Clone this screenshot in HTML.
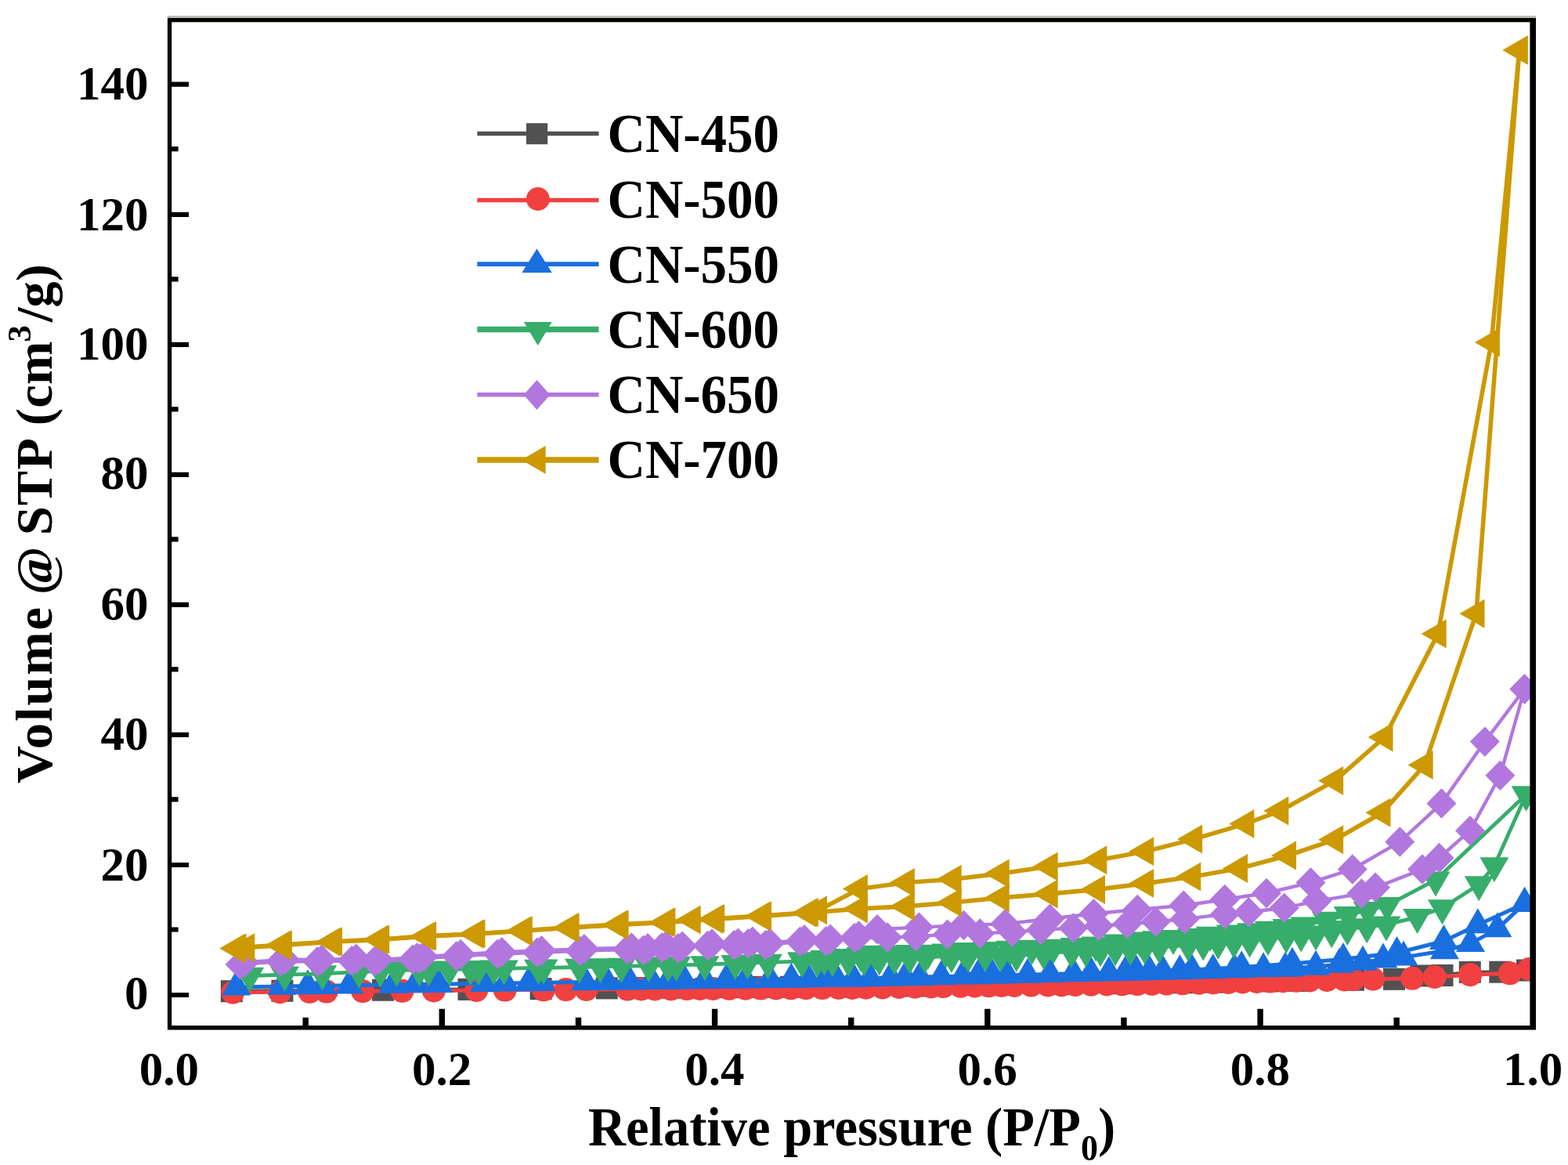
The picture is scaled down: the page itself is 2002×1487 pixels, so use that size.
<!DOCTYPE html>
<html lang="en"><head><meta charset="utf-8"><title>N2 adsorption-desorption isotherms</title>
<style>
html,body{margin:0;padding:0;background:#ffffff;}
body{width:2002px;height:1487px;overflow:hidden;}
svg{display:block;}
text{font-family:"Liberation Serif","DejaVu Serif",serif;font-weight:bold;fill:#000;}
.tk{font-size:61px;}
.ti{font-size:66.5px;}
.lg{font-size:67px;}
</style></head><body>
<svg width="2002" height="1487" viewBox="0 0 2002 1487">
<rect width="2002" height="1487" fill="#ffffff"/>
<defs><clipPath id="plotclip"><rect x="216.5" y="25.5" width="1741.0" height="1286.2"/></clipPath></defs>
<g clip-path="url(#plotclip)" stroke-linejoin="round" stroke-linecap="butt" fill="none">
<g>
<polyline points="295.8,1265.2 360.4,1264.7 489.0,1263.7 598.5,1262.9 690.6,1262.1 774.7,1261.4 818.0,1261.0 858.0,1260.7 932.0,1260.1 973.0,1259.9 1010.0,1259.8 1089.5,1259.4 1169.4,1258.4 1275.5,1256.9 1354.0,1256.0 1430.0,1255.2 1511.0,1254.2 1549.5,1253.6 1619.0,1252.4 1655.0,1251.9 1728.0,1250.7 1780.0,1249.8 1814.3,1245.5 1841.5,1245.0 1876.8,1240.9 1915.3,1240.7 1950.0,1238.5" stroke="#515151" stroke-width="5"/>
<rect x="281.8" y="1251.2" width="28" height="28" fill="#515151"/>
<rect x="346.4" y="1250.7" width="28" height="28" fill="#515151"/>
<rect x="475.0" y="1249.7" width="28" height="28" fill="#515151"/>
<rect x="584.5" y="1248.9" width="28" height="28" fill="#515151"/>
<rect x="676.6" y="1248.1" width="28" height="28" fill="#515151"/>
<rect x="760.7" y="1247.4" width="28" height="28" fill="#515151"/>
<rect x="804.0" y="1247.0" width="28" height="28" fill="#515151"/>
<rect x="844.0" y="1246.7" width="28" height="28" fill="#515151"/>
<rect x="918.0" y="1246.1" width="28" height="28" fill="#515151"/>
<rect x="959.0" y="1245.9" width="28" height="28" fill="#515151"/>
<rect x="996.0" y="1245.8" width="28" height="28" fill="#515151"/>
<rect x="1075.5" y="1245.4" width="28" height="28" fill="#515151"/>
<rect x="1155.4" y="1244.4" width="28" height="28" fill="#515151"/>
<rect x="1261.5" y="1242.9" width="28" height="28" fill="#515151"/>
<rect x="1340.0" y="1242.0" width="28" height="28" fill="#515151"/>
<rect x="1416.0" y="1241.2" width="28" height="28" fill="#515151"/>
<rect x="1497.0" y="1240.2" width="28" height="28" fill="#515151"/>
<rect x="1535.5" y="1239.6" width="28" height="28" fill="#515151"/>
<rect x="1605.0" y="1238.4" width="28" height="28" fill="#515151"/>
<rect x="1641.0" y="1237.9" width="28" height="28" fill="#515151"/>
<rect x="1714.0" y="1236.7" width="28" height="28" fill="#515151"/>
<rect x="1766.0" y="1235.8" width="28" height="28" fill="#515151"/>
<rect x="1800.3" y="1231.5" width="28" height="28" fill="#515151"/>
<rect x="1827.5" y="1231.0" width="28" height="28" fill="#515151"/>
<rect x="1862.8" y="1226.9" width="28" height="28" fill="#515151"/>
<rect x="1901.3" y="1226.7" width="28" height="28" fill="#515151"/>
<rect x="1936.0" y="1224.5" width="28" height="28" fill="#515151"/>
</g>
<g>
<polyline points="297.3,1266.7 357.3,1266.2 395.3,1265.8 416.8,1265.6 463.1,1265.2 513.5,1264.8 553.8,1264.4 608.3,1264.0 644.7,1263.6 694.0,1263.3 722.6,1263.1 748.6,1263.0 801.2,1262.6 818.7,1262.5 836.2,1262.4 856.7,1262.3 877.1,1262.1 893.7,1262.0 910.3,1261.9 931.0,1261.8 951.8,1261.7 971.3,1261.6 990.8,1261.5 1009.9,1261.3 1029.0,1261.2 1049.8,1261.1 1070.6,1261.0 1088.2,1260.9 1105.7,1260.7 1126.8,1260.4 1147.9,1260.0 1168.3,1259.7 1188.8,1259.4 1204.4,1259.1 1226.5,1258.8 1244.5,1258.5 1262.5,1258.3 1278.8,1258.1 1295.0,1257.9 1316.5,1257.6 1337.9,1257.4 1355.5,1257.2 1373.0,1257.0 1393.1,1256.7 1413.2,1256.5 1432.7,1256.3 1452.2,1256.1 1470.8,1255.8 1489.5,1255.6 1510.0,1255.3 1530.6,1254.8 1549.4,1254.3 1568.3,1253.9 1586.5,1253.5 1604.7,1253.0 1621.6,1252.6 1638.4,1252.2 1655.3,1251.8 1672.2,1251.4 1694.3,1250.9 1716.4,1250.4 1727.8,1250.1 1753.1,1249.6 1803.1,1248.8 1831.7,1247.0 1877.1,1244.2 1927.8,1242.3 1952.5,1237.0" stroke="#F14040" stroke-width="5"/>
<circle cx="297.3" cy="1266.7" r="15" fill="#F14040"/>
<circle cx="357.3" cy="1266.2" r="15" fill="#F14040"/>
<circle cx="395.3" cy="1265.8" r="15" fill="#F14040"/>
<circle cx="416.8" cy="1265.6" r="15" fill="#F14040"/>
<circle cx="463.1" cy="1265.2" r="15" fill="#F14040"/>
<circle cx="513.5" cy="1264.8" r="15" fill="#F14040"/>
<circle cx="553.8" cy="1264.4" r="15" fill="#F14040"/>
<circle cx="608.3" cy="1264.0" r="15" fill="#F14040"/>
<circle cx="644.7" cy="1263.6" r="15" fill="#F14040"/>
<circle cx="694.0" cy="1263.3" r="15" fill="#F14040"/>
<circle cx="722.6" cy="1263.1" r="15" fill="#F14040"/>
<circle cx="748.6" cy="1263.0" r="15" fill="#F14040"/>
<circle cx="801.2" cy="1262.6" r="15" fill="#F14040"/>
<circle cx="818.7" cy="1262.5" r="15" fill="#F14040"/>
<circle cx="836.2" cy="1262.4" r="15" fill="#F14040"/>
<circle cx="856.7" cy="1262.3" r="15" fill="#F14040"/>
<circle cx="877.1" cy="1262.1" r="15" fill="#F14040"/>
<circle cx="893.7" cy="1262.0" r="15" fill="#F14040"/>
<circle cx="910.3" cy="1261.9" r="15" fill="#F14040"/>
<circle cx="931.0" cy="1261.8" r="15" fill="#F14040"/>
<circle cx="951.8" cy="1261.7" r="15" fill="#F14040"/>
<circle cx="971.3" cy="1261.6" r="15" fill="#F14040"/>
<circle cx="990.8" cy="1261.5" r="15" fill="#F14040"/>
<circle cx="1009.9" cy="1261.3" r="15" fill="#F14040"/>
<circle cx="1029.0" cy="1261.2" r="15" fill="#F14040"/>
<circle cx="1049.8" cy="1261.1" r="15" fill="#F14040"/>
<circle cx="1070.6" cy="1261.0" r="15" fill="#F14040"/>
<circle cx="1088.2" cy="1260.9" r="15" fill="#F14040"/>
<circle cx="1105.7" cy="1260.7" r="15" fill="#F14040"/>
<circle cx="1126.8" cy="1260.4" r="15" fill="#F14040"/>
<circle cx="1147.9" cy="1260.0" r="15" fill="#F14040"/>
<circle cx="1168.3" cy="1259.7" r="15" fill="#F14040"/>
<circle cx="1188.8" cy="1259.4" r="15" fill="#F14040"/>
<circle cx="1204.4" cy="1259.1" r="15" fill="#F14040"/>
<circle cx="1226.5" cy="1258.8" r="15" fill="#F14040"/>
<circle cx="1244.5" cy="1258.5" r="15" fill="#F14040"/>
<circle cx="1262.5" cy="1258.3" r="15" fill="#F14040"/>
<circle cx="1278.8" cy="1258.1" r="15" fill="#F14040"/>
<circle cx="1295.0" cy="1257.9" r="15" fill="#F14040"/>
<circle cx="1316.5" cy="1257.6" r="15" fill="#F14040"/>
<circle cx="1337.9" cy="1257.4" r="15" fill="#F14040"/>
<circle cx="1355.5" cy="1257.2" r="15" fill="#F14040"/>
<circle cx="1373.0" cy="1257.0" r="15" fill="#F14040"/>
<circle cx="1393.1" cy="1256.7" r="15" fill="#F14040"/>
<circle cx="1413.2" cy="1256.5" r="15" fill="#F14040"/>
<circle cx="1432.7" cy="1256.3" r="15" fill="#F14040"/>
<circle cx="1452.2" cy="1256.1" r="15" fill="#F14040"/>
<circle cx="1470.8" cy="1255.8" r="15" fill="#F14040"/>
<circle cx="1489.5" cy="1255.6" r="15" fill="#F14040"/>
<circle cx="1510.0" cy="1255.3" r="15" fill="#F14040"/>
<circle cx="1530.6" cy="1254.8" r="15" fill="#F14040"/>
<circle cx="1549.4" cy="1254.3" r="15" fill="#F14040"/>
<circle cx="1568.3" cy="1253.9" r="15" fill="#F14040"/>
<circle cx="1586.5" cy="1253.5" r="15" fill="#F14040"/>
<circle cx="1604.7" cy="1253.0" r="15" fill="#F14040"/>
<circle cx="1621.6" cy="1252.6" r="15" fill="#F14040"/>
<circle cx="1638.4" cy="1252.2" r="15" fill="#F14040"/>
<circle cx="1655.3" cy="1251.8" r="15" fill="#F14040"/>
<circle cx="1672.2" cy="1251.4" r="15" fill="#F14040"/>
<circle cx="1694.3" cy="1250.9" r="15" fill="#F14040"/>
<circle cx="1716.4" cy="1250.4" r="15" fill="#F14040"/>
<circle cx="1727.8" cy="1250.1" r="15" fill="#F14040"/>
<circle cx="1753.1" cy="1249.6" r="15" fill="#F14040"/>
<circle cx="1803.1" cy="1248.8" r="15" fill="#F14040"/>
<circle cx="1831.7" cy="1247.0" r="15" fill="#F14040"/>
<circle cx="1877.1" cy="1244.2" r="15" fill="#F14040"/>
<circle cx="1927.8" cy="1242.3" r="15" fill="#F14040"/>
<circle cx="1952.5" cy="1237.0" r="15" fill="#F14040"/>
</g>
<g>
<polyline points="301.7,1259.9 360.0,1259.0 393.0,1258.6 412.0,1258.3 446.0,1257.8 501.5,1257.0 530.0,1256.6 560.0,1256.2 618.5,1255.3 645.0,1255.0 675.0,1254.6 691.0,1254.3 747.5,1253.5 775.0,1253.2 803.8,1252.7 832.3,1252.3 853.1,1252.1 873.9,1251.8 899.9,1251.4 927.1,1251.1 951.8,1250.8 983.0,1250.4 1010.3,1250.0 1032.0,1249.7 1053.8,1249.5 1068.0,1249.3 1089.5,1249.0 1110.9,1248.7 1136.9,1248.1 1155.7,1247.6 1174.5,1247.2 1201.8,1246.6 1229.1,1246.0 1248.6,1245.5 1267.3,1245.1 1286.0,1244.7 1312.0,1244.1 1340.5,1243.4 1370.4,1242.7 1393.1,1242.1 1415.8,1241.5 1436.6,1241.0 1450.9,1240.7 1467.8,1240.3 1484.7,1240.0 1506.4,1239.5 1521.6,1239.1 1548.8,1238.3 1576.1,1237.5 1585.2,1237.3 1613.1,1236.6 1641.0,1236.0 1647.5,1235.7 1680.0,1234.0 1710.0,1231.0 1740.0,1228.0 1766.0,1225.0 1792.0,1221.9 1844.4,1213.5 1877.5,1204.4 1911.9,1185.6 1946.6,1153.2" stroke="#1A6FDF" stroke-width="5"/>
<polyline points="1946.6,1153.2 1886.9,1180.5 1843.4,1201.3 1783.6,1216.2 1715.0,1224.3 1650.0,1230.0 1585.2,1234.5 1521.6,1238.0 1450.9,1240.0" stroke="#1A6FDF" stroke-width="5"/>
<path d="M301.7 1238.5L320.2 1270.5L283.2 1270.5Z" fill="#1A6FDF"/>
<path d="M360.0 1237.7L378.5 1269.7L341.5 1269.7Z" fill="#1A6FDF"/>
<path d="M393.0 1237.2L411.5 1269.2L374.5 1269.2Z" fill="#1A6FDF"/>
<path d="M412.0 1237.0L430.5 1269.0L393.5 1269.0Z" fill="#1A6FDF"/>
<path d="M446.0 1236.5L464.5 1268.5L427.5 1268.5Z" fill="#1A6FDF"/>
<path d="M501.5 1235.7L520.0 1267.7L483.0 1267.7Z" fill="#1A6FDF"/>
<path d="M530.0 1235.3L548.5 1267.3L511.5 1267.3Z" fill="#1A6FDF"/>
<path d="M560.0 1234.9L578.5 1266.9L541.5 1266.9Z" fill="#1A6FDF"/>
<path d="M618.5 1234.0L637.0 1266.0L600.0 1266.0Z" fill="#1A6FDF"/>
<path d="M645.0 1233.6L663.5 1265.6L626.5 1265.6Z" fill="#1A6FDF"/>
<path d="M675.0 1233.2L693.5 1265.2L656.5 1265.2Z" fill="#1A6FDF"/>
<path d="M691.0 1233.0L709.5 1265.0L672.5 1265.0Z" fill="#1A6FDF"/>
<path d="M747.5 1232.2L766.0 1264.2L729.0 1264.2Z" fill="#1A6FDF"/>
<path d="M775.0 1231.8L793.5 1263.8L756.5 1263.8Z" fill="#1A6FDF"/>
<path d="M803.8 1231.4L822.3 1263.4L785.3 1263.4Z" fill="#1A6FDF"/>
<path d="M832.3 1231.0L850.8 1263.0L813.8 1263.0Z" fill="#1A6FDF"/>
<path d="M853.1 1230.7L871.6 1262.7L834.6 1262.7Z" fill="#1A6FDF"/>
<path d="M873.9 1230.4L892.4 1262.4L855.4 1262.4Z" fill="#1A6FDF"/>
<path d="M899.9 1230.1L918.4 1262.1L881.4 1262.1Z" fill="#1A6FDF"/>
<path d="M927.1 1229.7L945.6 1261.7L908.6 1261.7Z" fill="#1A6FDF"/>
<path d="M951.8 1229.4L970.3 1261.4L933.3 1261.4Z" fill="#1A6FDF"/>
<path d="M983.0 1229.0L1001.5 1261.0L964.5 1261.0Z" fill="#1A6FDF"/>
<path d="M1010.3 1228.7L1028.8 1260.7L991.8 1260.7Z" fill="#1A6FDF"/>
<path d="M1032.0 1228.4L1050.5 1260.4L1013.5 1260.4Z" fill="#1A6FDF"/>
<path d="M1053.8 1228.1L1072.3 1260.1L1035.3 1260.1Z" fill="#1A6FDF"/>
<path d="M1068.0 1228.0L1086.5 1260.0L1049.5 1260.0Z" fill="#1A6FDF"/>
<path d="M1089.5 1227.7L1108.0 1259.7L1071.0 1259.7Z" fill="#1A6FDF"/>
<path d="M1110.9 1227.3L1129.4 1259.3L1092.4 1259.3Z" fill="#1A6FDF"/>
<path d="M1136.9 1226.7L1155.4 1258.7L1118.4 1258.7Z" fill="#1A6FDF"/>
<path d="M1155.7 1226.3L1174.2 1258.3L1137.2 1258.3Z" fill="#1A6FDF"/>
<path d="M1174.5 1225.9L1193.0 1257.9L1156.0 1257.9Z" fill="#1A6FDF"/>
<path d="M1201.8 1225.2L1220.3 1257.2L1183.3 1257.2Z" fill="#1A6FDF"/>
<path d="M1229.1 1224.6L1247.6 1256.6L1210.6 1256.6Z" fill="#1A6FDF"/>
<path d="M1248.6 1224.2L1267.1 1256.2L1230.1 1256.2Z" fill="#1A6FDF"/>
<path d="M1267.3 1223.8L1285.8 1255.8L1248.8 1255.8Z" fill="#1A6FDF"/>
<path d="M1286.0 1223.3L1304.5 1255.3L1267.5 1255.3Z" fill="#1A6FDF"/>
<path d="M1312.0 1222.7L1330.5 1254.7L1293.5 1254.7Z" fill="#1A6FDF"/>
<path d="M1340.5 1222.1L1359.0 1254.1L1322.0 1254.1Z" fill="#1A6FDF"/>
<path d="M1370.4 1221.3L1388.9 1253.3L1351.9 1253.3Z" fill="#1A6FDF"/>
<path d="M1393.1 1220.8L1411.6 1252.8L1374.6 1252.8Z" fill="#1A6FDF"/>
<path d="M1415.8 1220.2L1434.3 1252.2L1397.3 1252.2Z" fill="#1A6FDF"/>
<path d="M1436.6 1219.7L1455.1 1251.7L1418.1 1251.7Z" fill="#1A6FDF"/>
<path d="M1450.9 1219.4L1469.4 1251.4L1432.4 1251.4Z" fill="#1A6FDF"/>
<path d="M1467.8 1219.0L1486.3 1251.0L1449.3 1251.0Z" fill="#1A6FDF"/>
<path d="M1484.7 1218.6L1503.2 1250.6L1466.2 1250.6Z" fill="#1A6FDF"/>
<path d="M1506.4 1218.2L1524.9 1250.2L1487.9 1250.2Z" fill="#1A6FDF"/>
<path d="M1521.6 1217.7L1540.1 1249.7L1503.1 1249.7Z" fill="#1A6FDF"/>
<path d="M1548.8 1216.9L1567.3 1248.9L1530.3 1248.9Z" fill="#1A6FDF"/>
<path d="M1576.1 1216.2L1594.6 1248.2L1557.6 1248.2Z" fill="#1A6FDF"/>
<path d="M1585.2 1216.0L1603.7 1248.0L1566.7 1248.0Z" fill="#1A6FDF"/>
<path d="M1613.1 1215.3L1631.6 1247.3L1594.6 1247.3Z" fill="#1A6FDF"/>
<path d="M1641.0 1214.7L1659.5 1246.7L1622.5 1246.7Z" fill="#1A6FDF"/>
<path d="M1647.5 1214.3L1666.0 1246.3L1629.0 1246.3Z" fill="#1A6FDF"/>
<path d="M1680.0 1212.7L1698.5 1244.7L1661.5 1244.7Z" fill="#1A6FDF"/>
<path d="M1710.0 1209.7L1728.5 1241.7L1691.5 1241.7Z" fill="#1A6FDF"/>
<path d="M1740.0 1206.7L1758.5 1238.7L1721.5 1238.7Z" fill="#1A6FDF"/>
<path d="M1766.0 1203.6L1784.5 1235.6L1747.5 1235.6Z" fill="#1A6FDF"/>
<path d="M1792.0 1200.6L1810.5 1232.6L1773.5 1232.6Z" fill="#1A6FDF"/>
<path d="M1844.4 1192.2L1862.9 1224.2L1825.9 1224.2Z" fill="#1A6FDF"/>
<path d="M1877.5 1183.1L1896.0 1215.1L1859.0 1215.1Z" fill="#1A6FDF"/>
<path d="M1911.9 1164.3L1930.4 1196.3L1893.4 1196.3Z" fill="#1A6FDF"/>
<path d="M1946.6 1131.9L1965.1 1163.9L1928.1 1163.9Z" fill="#1A6FDF"/>
<path d="M1946.6 1131.9L1965.1 1163.9L1928.1 1163.9Z" fill="#1A6FDF"/>
<path d="M1886.9 1159.2L1905.4 1191.2L1868.4 1191.2Z" fill="#1A6FDF"/>
<path d="M1843.4 1180.0L1861.9 1212.0L1824.9 1212.0Z" fill="#1A6FDF"/>
<path d="M1783.6 1194.9L1802.1 1226.9L1765.1 1226.9Z" fill="#1A6FDF"/>
<path d="M1715.0 1203.0L1733.5 1235.0L1696.5 1235.0Z" fill="#1A6FDF"/>
<path d="M1650.0 1208.7L1668.5 1240.7L1631.5 1240.7Z" fill="#1A6FDF"/>
<path d="M1585.2 1213.2L1603.7 1245.2L1566.7 1245.2Z" fill="#1A6FDF"/>
<path d="M1521.6 1216.7L1540.1 1248.7L1503.1 1248.7Z" fill="#1A6FDF"/>
<path d="M1450.9 1218.7L1469.4 1250.7L1432.4 1250.7Z" fill="#1A6FDF"/>
</g>
<g>
<polyline points="318.7,1245.5 363.5,1244.2 411.6,1242.9 458.3,1240.5 485.6,1239.4 506.4,1238.5 535.6,1238.0 547.3,1237.8 573.9,1237.3 600.5,1236.8 610.9,1236.6 630.4,1236.3 643.4,1236.1 687.5,1235.4 694.0,1235.3 739.5,1234.5 766.5,1233.9 793.4,1233.3 828.4,1232.6 853.1,1232.0 863.5,1231.8 899.9,1231.0 938.8,1229.7 954.4,1229.2 980.4,1228.4 1024.0,1227.0 1043.5,1226.4 1062.9,1225.9 1083.0,1225.3 1103.1,1224.7 1122.6,1223.9 1142.1,1223.1 1161.5,1222.3 1181.0,1221.5 1214.8,1220.6 1236.2,1220.1 1257.7,1219.5 1277.7,1219.5 1297.7,1219.6 1332.7,1217.0 1367.8,1214.4 1386.4,1213.6 1405.0,1212.8 1424.0,1212.0 1443.1,1211.2 1461.5,1210.0 1480.0,1208.8 1517.0,1206.4 1536.2,1205.1 1555.3,1203.8 1575.4,1202.5 1595.6,1201.2 1618.9,1198.6 1642.3,1196.0 1661.2,1194.0 1680.0,1192.1 1700.2,1188.8 1720.3,1185.6 1745.2,1182.9 1770.0,1180.3 1809.6,1170.6 1841.4,1158.9 1888.2,1129.0 1907.9,1105.0 1948.5,1014.3" stroke="#37AD6B" stroke-width="4.8"/>
<polyline points="1948.5,1014.3 1833.0,1123.2 1771.3,1155.6 1746.2,1161.6 1721.2,1167.6 1693.5,1174.4 1665.7,1181.2 1643.0,1183.8 1620.2,1186.4 1597.5,1189.0 1571.2,1191.2 1545.0,1193.5 1521.5,1195.6 1498.0,1197.7 1476.5,1199.0 1455.0,1200.3 1427.0,1203.2 1399.0,1206.2 1372.0,1207.8 1345.0,1209.4 1317.5,1210.5 1290.0,1211.5 1260.2,1212.7 1230.4,1213.8 1207.7,1215.1 1185.0,1216.4 1162.3,1216.8 1139.7,1217.1 1117.0,1217.5 1099.0,1219.5 1081.0,1221.6 1052.5,1223.8 1024.0,1226.0" stroke="#37AD6B" stroke-width="4.8"/>
<path d="M318.7 1266.8L337.2 1234.8L300.2 1234.8Z" fill="#37AD6B"/>
<path d="M363.5 1265.5L382.0 1233.5L345.0 1233.5Z" fill="#37AD6B"/>
<path d="M411.6 1264.2L430.1 1232.2L393.1 1232.2Z" fill="#37AD6B"/>
<path d="M458.3 1261.8L476.8 1229.8L439.8 1229.8Z" fill="#37AD6B"/>
<path d="M485.6 1260.7L504.1 1228.7L467.1 1228.7Z" fill="#37AD6B"/>
<path d="M506.4 1259.8L524.9 1227.8L487.9 1227.8Z" fill="#37AD6B"/>
<path d="M535.6 1259.3L554.1 1227.3L517.1 1227.3Z" fill="#37AD6B"/>
<path d="M547.3 1259.1L565.8 1227.1L528.8 1227.1Z" fill="#37AD6B"/>
<path d="M573.9 1258.6L592.4 1226.6L555.4 1226.6Z" fill="#37AD6B"/>
<path d="M600.5 1258.1L619.0 1226.1L582.0 1226.1Z" fill="#37AD6B"/>
<path d="M610.9 1258.0L629.4 1226.0L592.4 1226.0Z" fill="#37AD6B"/>
<path d="M630.4 1257.6L648.9 1225.6L611.9 1225.6Z" fill="#37AD6B"/>
<path d="M643.4 1257.4L661.9 1225.4L624.9 1225.4Z" fill="#37AD6B"/>
<path d="M687.5 1256.7L706.0 1224.7L669.0 1224.7Z" fill="#37AD6B"/>
<path d="M694.0 1256.6L712.5 1224.6L675.5 1224.6Z" fill="#37AD6B"/>
<path d="M739.5 1255.8L758.0 1223.8L721.0 1223.8Z" fill="#37AD6B"/>
<path d="M766.5 1255.3L785.0 1223.3L748.0 1223.3Z" fill="#37AD6B"/>
<path d="M793.4 1254.7L811.9 1222.7L774.9 1222.7Z" fill="#37AD6B"/>
<path d="M828.4 1253.9L846.9 1221.9L809.9 1221.9Z" fill="#37AD6B"/>
<path d="M853.1 1253.4L871.6 1221.4L834.6 1221.4Z" fill="#37AD6B"/>
<path d="M863.5 1253.1L882.0 1221.1L845.0 1221.1Z" fill="#37AD6B"/>
<path d="M899.9 1252.3L918.4 1220.3L881.4 1220.3Z" fill="#37AD6B"/>
<path d="M938.8 1251.1L957.3 1219.1L920.3 1219.1Z" fill="#37AD6B"/>
<path d="M954.4 1250.6L972.9 1218.6L935.9 1218.6Z" fill="#37AD6B"/>
<path d="M980.4 1249.7L998.9 1217.7L961.9 1217.7Z" fill="#37AD6B"/>
<path d="M1024.0 1248.3L1042.5 1216.3L1005.5 1216.3Z" fill="#37AD6B"/>
<path d="M1043.5 1247.8L1062.0 1215.8L1025.0 1215.8Z" fill="#37AD6B"/>
<path d="M1062.9 1247.2L1081.4 1215.2L1044.4 1215.2Z" fill="#37AD6B"/>
<path d="M1083.0 1246.6L1101.5 1214.6L1064.5 1214.6Z" fill="#37AD6B"/>
<path d="M1103.1 1246.0L1121.6 1214.0L1084.6 1214.0Z" fill="#37AD6B"/>
<path d="M1122.6 1245.2L1141.1 1213.2L1104.1 1213.2Z" fill="#37AD6B"/>
<path d="M1142.1 1244.4L1160.6 1212.4L1123.6 1212.4Z" fill="#37AD6B"/>
<path d="M1161.5 1243.6L1180.0 1211.6L1143.0 1211.6Z" fill="#37AD6B"/>
<path d="M1181.0 1242.8L1199.5 1210.8L1162.5 1210.8Z" fill="#37AD6B"/>
<path d="M1214.8 1242.0L1233.3 1210.0L1196.3 1210.0Z" fill="#37AD6B"/>
<path d="M1236.2 1241.4L1254.8 1209.4L1217.8 1209.4Z" fill="#37AD6B"/>
<path d="M1257.7 1240.8L1276.2 1208.8L1239.2 1208.8Z" fill="#37AD6B"/>
<path d="M1277.7 1240.9L1296.2 1208.9L1259.2 1208.9Z" fill="#37AD6B"/>
<path d="M1297.7 1240.9L1316.2 1208.9L1279.2 1208.9Z" fill="#37AD6B"/>
<path d="M1332.7 1238.3L1351.2 1206.3L1314.2 1206.3Z" fill="#37AD6B"/>
<path d="M1367.8 1235.7L1386.3 1203.7L1349.3 1203.7Z" fill="#37AD6B"/>
<path d="M1386.4 1234.9L1404.9 1202.9L1367.9 1202.9Z" fill="#37AD6B"/>
<path d="M1405.0 1234.2L1423.5 1202.2L1386.5 1202.2Z" fill="#37AD6B"/>
<path d="M1424.0 1233.3L1442.5 1201.3L1405.5 1201.3Z" fill="#37AD6B"/>
<path d="M1443.1 1232.5L1461.6 1200.5L1424.6 1200.5Z" fill="#37AD6B"/>
<path d="M1461.5 1231.3L1480.0 1199.3L1443.0 1199.3Z" fill="#37AD6B"/>
<path d="M1480.0 1230.1L1498.5 1198.1L1461.5 1198.1Z" fill="#37AD6B"/>
<path d="M1517.0 1227.7L1535.5 1195.7L1498.5 1195.7Z" fill="#37AD6B"/>
<path d="M1536.2 1226.4L1554.7 1194.4L1517.7 1194.4Z" fill="#37AD6B"/>
<path d="M1555.3 1225.1L1573.8 1193.1L1536.8 1193.1Z" fill="#37AD6B"/>
<path d="M1575.4 1223.8L1593.9 1191.8L1556.9 1191.8Z" fill="#37AD6B"/>
<path d="M1595.6 1222.5L1614.1 1190.5L1577.1 1190.5Z" fill="#37AD6B"/>
<path d="M1618.9 1219.9L1637.4 1187.9L1600.4 1187.9Z" fill="#37AD6B"/>
<path d="M1642.3 1217.3L1660.8 1185.3L1623.8 1185.3Z" fill="#37AD6B"/>
<path d="M1661.2 1215.4L1679.7 1183.4L1642.7 1183.4Z" fill="#37AD6B"/>
<path d="M1680.0 1213.4L1698.5 1181.4L1661.5 1181.4Z" fill="#37AD6B"/>
<path d="M1700.2 1210.2L1718.7 1178.2L1681.7 1178.2Z" fill="#37AD6B"/>
<path d="M1720.3 1206.9L1738.8 1174.9L1701.8 1174.9Z" fill="#37AD6B"/>
<path d="M1745.2 1204.3L1763.7 1172.3L1726.7 1172.3Z" fill="#37AD6B"/>
<path d="M1770.0 1201.6L1788.5 1169.6L1751.5 1169.6Z" fill="#37AD6B"/>
<path d="M1809.6 1191.9L1828.1 1159.9L1791.1 1159.9Z" fill="#37AD6B"/>
<path d="M1841.4 1180.2L1859.9 1148.2L1822.9 1148.2Z" fill="#37AD6B"/>
<path d="M1888.2 1150.3L1906.7 1118.3L1869.7 1118.3Z" fill="#37AD6B"/>
<path d="M1907.9 1126.3L1926.4 1094.3L1889.4 1094.3Z" fill="#37AD6B"/>
<path d="M1948.5 1035.6L1967.0 1003.6L1930.0 1003.6Z" fill="#37AD6B"/>
<path d="M1948.5 1035.6L1967.0 1003.6L1930.0 1003.6Z" fill="#37AD6B"/>
<path d="M1833.0 1144.5L1851.5 1112.5L1814.5 1112.5Z" fill="#37AD6B"/>
<path d="M1771.3 1176.9L1789.8 1144.9L1752.8 1144.9Z" fill="#37AD6B"/>
<path d="M1746.2 1182.9L1764.8 1150.9L1727.8 1150.9Z" fill="#37AD6B"/>
<path d="M1721.2 1188.9L1739.7 1156.9L1702.7 1156.9Z" fill="#37AD6B"/>
<path d="M1693.5 1195.7L1712.0 1163.7L1675.0 1163.7Z" fill="#37AD6B"/>
<path d="M1665.7 1202.5L1684.2 1170.5L1647.2 1170.5Z" fill="#37AD6B"/>
<path d="M1643.0 1205.1L1661.5 1173.1L1624.5 1173.1Z" fill="#37AD6B"/>
<path d="M1620.2 1207.7L1638.7 1175.7L1601.7 1175.7Z" fill="#37AD6B"/>
<path d="M1597.5 1210.3L1616.0 1178.3L1579.0 1178.3Z" fill="#37AD6B"/>
<path d="M1571.2 1212.6L1589.8 1180.6L1552.8 1180.6Z" fill="#37AD6B"/>
<path d="M1545.0 1214.8L1563.5 1182.8L1526.5 1182.8Z" fill="#37AD6B"/>
<path d="M1521.5 1216.9L1540.0 1184.9L1503.0 1184.9Z" fill="#37AD6B"/>
<path d="M1498.0 1219.0L1516.5 1187.0L1479.5 1187.0Z" fill="#37AD6B"/>
<path d="M1476.5 1220.3L1495.0 1188.3L1458.0 1188.3Z" fill="#37AD6B"/>
<path d="M1455.0 1221.6L1473.5 1189.6L1436.5 1189.6Z" fill="#37AD6B"/>
<path d="M1427.0 1224.6L1445.5 1192.6L1408.5 1192.6Z" fill="#37AD6B"/>
<path d="M1399.0 1227.5L1417.5 1195.5L1380.5 1195.5Z" fill="#37AD6B"/>
<path d="M1372.0 1229.1L1390.5 1197.1L1353.5 1197.1Z" fill="#37AD6B"/>
<path d="M1345.0 1230.7L1363.5 1198.7L1326.5 1198.7Z" fill="#37AD6B"/>
<path d="M1317.5 1231.8L1336.0 1199.8L1299.0 1199.8Z" fill="#37AD6B"/>
<path d="M1290.0 1232.8L1308.5 1200.8L1271.5 1200.8Z" fill="#37AD6B"/>
<path d="M1260.2 1234.0L1278.7 1202.0L1241.7 1202.0Z" fill="#37AD6B"/>
<path d="M1230.4 1235.1L1248.9 1203.1L1211.9 1203.1Z" fill="#37AD6B"/>
<path d="M1207.7 1236.4L1226.2 1204.4L1189.2 1204.4Z" fill="#37AD6B"/>
<path d="M1185.0 1237.7L1203.5 1205.7L1166.5 1205.7Z" fill="#37AD6B"/>
<path d="M1162.3 1238.1L1180.8 1206.1L1143.8 1206.1Z" fill="#37AD6B"/>
<path d="M1139.7 1238.5L1158.2 1206.5L1121.2 1206.5Z" fill="#37AD6B"/>
<path d="M1117.0 1238.8L1135.5 1206.8L1098.5 1206.8Z" fill="#37AD6B"/>
<path d="M1099.0 1240.9L1117.5 1208.9L1080.5 1208.9Z" fill="#37AD6B"/>
<path d="M1081.0 1242.9L1099.5 1210.9L1062.5 1210.9Z" fill="#37AD6B"/>
<path d="M1052.5 1245.1L1071.0 1213.1L1034.0 1213.1Z" fill="#37AD6B"/>
<path d="M1024.0 1247.3L1042.5 1215.3L1005.5 1215.3Z" fill="#37AD6B"/>
</g>
<g>
<polyline points="306.5,1230.9 358.3,1227.3 405.1,1227.4 449.2,1226.2 477.8,1227.3 527.0,1224.8 535.2,1223.5 582.6,1220.6 635.2,1217.8 685.8,1215.8 740.4,1213.7 800.8,1212.1 821.5,1212.8 844.9,1209.5 865.7,1210.2 903.4,1206.9 937.1,1206.3 955.3,1204.3 977.4,1206.3 1021.5,1201.7 1054.7,1201.2 1091.0,1197.0 1133.0,1196.6 1169.4,1195.3 1209.6,1192.7 1251.2,1191.4 1292.5,1189.6 1328.8,1187.0 1370.4,1184.4 1402.9,1181.8 1439.2,1179.2 1475.6,1176.6 1512.5,1173.0 1563.8,1167.0 1594.3,1164.3 1639.7,1158.8 1681.3,1150.1 1738.4,1140.6 1756.0,1132.8 1816.0,1109.6 1837.6,1095.0 1877.0,1060.2 1915.4,989.8 1946.5,879.5" stroke="#B177DE" stroke-width="4.4"/>
<polyline points="1946.5,879.5 1895.8,946.6 1840.5,1025.4 1787.3,1074.5 1726.8,1109.5 1673.5,1126.4 1617.0,1140.0 1563.8,1148.0 1511.2,1155.8 1452.2,1161.0 1396.4,1166.2 1340.5,1172.7 1283.4,1179.2 1230.4,1181.0 1173.2,1183.6 1120.0,1186.2 1096.5,1194.5 1060.2,1198.7 1027.0,1199.2 982.9,1203.8 960.8,1201.8 942.6,1203.8 908.9,1204.4 871.2,1207.7 850.4,1207.0 827.0,1210.3 806.3,1209.6 745.9,1211.2 691.3,1213.3 640.7,1215.3 588.1,1218.1 540.7,1221.0 532.5,1222.3 483.3,1224.8 454.7,1223.7 410.6,1224.9 363.8,1224.8 312.0,1228.4" stroke="#B177DE" stroke-width="4.4"/>
<path d="M306.5 1211.7L325.5 1230.9L306.5 1250.2L287.5 1230.9Z" fill="#B177DE"/>
<path d="M358.3 1208.0L377.3 1227.3L358.3 1246.5L339.3 1227.3Z" fill="#B177DE"/>
<path d="M405.1 1208.1L424.1 1227.4L405.1 1246.6L386.1 1227.4Z" fill="#B177DE"/>
<path d="M449.2 1207.0L468.2 1226.2L449.2 1245.5L430.2 1226.2Z" fill="#B177DE"/>
<path d="M477.8 1208.0L496.8 1227.3L477.8 1246.5L458.8 1227.3Z" fill="#B177DE"/>
<path d="M527.0 1205.5L546.0 1224.8L527.0 1244.0L508.0 1224.8Z" fill="#B177DE"/>
<path d="M535.2 1204.2L554.2 1223.5L535.2 1242.8L516.2 1223.5Z" fill="#B177DE"/>
<path d="M582.6 1201.3L601.6 1220.6L582.6 1239.8L563.6 1220.6Z" fill="#B177DE"/>
<path d="M635.2 1198.5L654.2 1217.8L635.2 1237.0L616.2 1217.8Z" fill="#B177DE"/>
<path d="M685.8 1196.5L704.8 1215.8L685.8 1235.0L666.8 1215.8Z" fill="#B177DE"/>
<path d="M740.4 1194.5L759.4 1213.7L740.4 1233.0L721.4 1213.7Z" fill="#B177DE"/>
<path d="M800.8 1192.8L819.8 1212.1L800.8 1231.3L781.8 1212.1Z" fill="#B177DE"/>
<path d="M821.5 1193.5L840.5 1212.8L821.5 1232.0L802.5 1212.8Z" fill="#B177DE"/>
<path d="M844.9 1190.2L863.9 1209.5L844.9 1228.8L825.9 1209.5Z" fill="#B177DE"/>
<path d="M865.7 1191.0L884.7 1210.2L865.7 1229.5L846.7 1210.2Z" fill="#B177DE"/>
<path d="M903.4 1187.7L922.4 1206.9L903.4 1226.2L884.4 1206.9Z" fill="#B177DE"/>
<path d="M937.1 1187.0L956.1 1206.3L937.1 1225.5L918.1 1206.3Z" fill="#B177DE"/>
<path d="M955.3 1185.0L974.3 1204.3L955.3 1223.5L936.3 1204.3Z" fill="#B177DE"/>
<path d="M977.4 1187.0L996.4 1206.3L977.4 1225.5L958.4 1206.3Z" fill="#B177DE"/>
<path d="M1021.5 1182.5L1040.5 1201.7L1021.5 1221.0L1002.5 1201.7Z" fill="#B177DE"/>
<path d="M1054.7 1182.0L1073.7 1201.2L1054.7 1220.5L1035.7 1201.2Z" fill="#B177DE"/>
<path d="M1091.0 1177.8L1110.0 1197.0L1091.0 1216.2L1072.0 1197.0Z" fill="#B177DE"/>
<path d="M1133.0 1177.3L1152.0 1196.6L1133.0 1215.8L1114.0 1196.6Z" fill="#B177DE"/>
<path d="M1169.4 1176.0L1188.4 1195.3L1169.4 1214.5L1150.4 1195.3Z" fill="#B177DE"/>
<path d="M1209.6 1173.5L1228.6 1192.7L1209.6 1212.0L1190.6 1192.7Z" fill="#B177DE"/>
<path d="M1251.2 1172.2L1270.2 1191.4L1251.2 1210.7L1232.2 1191.4Z" fill="#B177DE"/>
<path d="M1292.5 1170.3L1311.5 1189.6L1292.5 1208.8L1273.5 1189.6Z" fill="#B177DE"/>
<path d="M1328.8 1167.8L1347.8 1187.0L1328.8 1206.2L1309.8 1187.0Z" fill="#B177DE"/>
<path d="M1370.4 1165.2L1389.4 1184.4L1370.4 1203.7L1351.4 1184.4Z" fill="#B177DE"/>
<path d="M1402.9 1162.5L1421.9 1181.8L1402.9 1201.0L1383.9 1181.8Z" fill="#B177DE"/>
<path d="M1439.2 1160.0L1458.2 1179.2L1439.2 1198.5L1420.2 1179.2Z" fill="#B177DE"/>
<path d="M1475.6 1157.3L1494.6 1176.6L1475.6 1195.8L1456.6 1176.6Z" fill="#B177DE"/>
<path d="M1512.5 1153.8L1531.5 1173.0L1512.5 1192.2L1493.5 1173.0Z" fill="#B177DE"/>
<path d="M1563.8 1147.8L1582.8 1167.0L1563.8 1186.2L1544.8 1167.0Z" fill="#B177DE"/>
<path d="M1594.3 1145.0L1613.3 1164.3L1594.3 1183.5L1575.3 1164.3Z" fill="#B177DE"/>
<path d="M1639.7 1139.5L1658.7 1158.8L1639.7 1178.0L1620.7 1158.8Z" fill="#B177DE"/>
<path d="M1681.3 1130.8L1700.3 1150.1L1681.3 1169.3L1662.3 1150.1Z" fill="#B177DE"/>
<path d="M1738.4 1121.3L1757.4 1140.6L1738.4 1159.8L1719.4 1140.6Z" fill="#B177DE"/>
<path d="M1756.0 1113.5L1775.0 1132.8L1756.0 1152.0L1737.0 1132.8Z" fill="#B177DE"/>
<path d="M1816.0 1090.3L1835.0 1109.6L1816.0 1128.8L1797.0 1109.6Z" fill="#B177DE"/>
<path d="M1837.6 1075.8L1856.6 1095.0L1837.6 1114.2L1818.6 1095.0Z" fill="#B177DE"/>
<path d="M1877.0 1041.0L1896.0 1060.2L1877.0 1079.5L1858.0 1060.2Z" fill="#B177DE"/>
<path d="M1915.4 970.5L1934.4 989.8L1915.4 1009.0L1896.4 989.8Z" fill="#B177DE"/>
<path d="M1946.5 860.2L1965.5 879.5L1946.5 898.8L1927.5 879.5Z" fill="#B177DE"/>
<path d="M1946.5 860.2L1965.5 879.5L1946.5 898.8L1927.5 879.5Z" fill="#B177DE"/>
<path d="M1895.8 927.4L1914.8 946.6L1895.8 965.9L1876.8 946.6Z" fill="#B177DE"/>
<path d="M1840.5 1006.2L1859.5 1025.4L1840.5 1044.7L1821.5 1025.4Z" fill="#B177DE"/>
<path d="M1787.3 1055.2L1806.3 1074.5L1787.3 1093.8L1768.3 1074.5Z" fill="#B177DE"/>
<path d="M1726.8 1090.2L1745.8 1109.5L1726.8 1128.8L1707.8 1109.5Z" fill="#B177DE"/>
<path d="M1673.5 1107.2L1692.5 1126.4L1673.5 1145.7L1654.5 1126.4Z" fill="#B177DE"/>
<path d="M1617.0 1120.8L1636.0 1140.0L1617.0 1159.2L1598.0 1140.0Z" fill="#B177DE"/>
<path d="M1563.8 1128.8L1582.8 1148.0L1563.8 1167.2L1544.8 1148.0Z" fill="#B177DE"/>
<path d="M1511.2 1136.5L1530.2 1155.8L1511.2 1175.0L1492.2 1155.8Z" fill="#B177DE"/>
<path d="M1452.2 1141.8L1471.2 1161.0L1452.2 1180.2L1433.2 1161.0Z" fill="#B177DE"/>
<path d="M1396.4 1147.0L1415.4 1166.2L1396.4 1185.5L1377.4 1166.2Z" fill="#B177DE"/>
<path d="M1340.5 1153.5L1359.5 1172.7L1340.5 1192.0L1321.5 1172.7Z" fill="#B177DE"/>
<path d="M1283.4 1160.0L1302.4 1179.2L1283.4 1198.5L1264.4 1179.2Z" fill="#B177DE"/>
<path d="M1230.4 1161.8L1249.4 1181.0L1230.4 1200.2L1211.4 1181.0Z" fill="#B177DE"/>
<path d="M1173.2 1164.3L1192.2 1183.6L1173.2 1202.8L1154.2 1183.6Z" fill="#B177DE"/>
<path d="M1120.0 1167.0L1139.0 1186.2L1120.0 1205.5L1101.0 1186.2Z" fill="#B177DE"/>
<path d="M1096.5 1175.2L1115.5 1194.5L1096.5 1213.8L1077.5 1194.5Z" fill="#B177DE"/>
<path d="M1060.2 1179.5L1079.2 1198.7L1060.2 1218.0L1041.2 1198.7Z" fill="#B177DE"/>
<path d="M1027.0 1180.0L1046.0 1199.2L1027.0 1218.5L1008.0 1199.2Z" fill="#B177DE"/>
<path d="M982.9 1184.5L1001.9 1203.8L982.9 1223.0L963.9 1203.8Z" fill="#B177DE"/>
<path d="M960.8 1182.5L979.8 1201.8L960.8 1221.0L941.8 1201.8Z" fill="#B177DE"/>
<path d="M942.6 1184.5L961.6 1203.8L942.6 1223.0L923.6 1203.8Z" fill="#B177DE"/>
<path d="M908.9 1185.2L927.9 1204.4L908.9 1223.7L889.9 1204.4Z" fill="#B177DE"/>
<path d="M871.2 1188.5L890.2 1207.7L871.2 1227.0L852.2 1207.7Z" fill="#B177DE"/>
<path d="M850.4 1187.8L869.4 1207.0L850.4 1226.2L831.4 1207.0Z" fill="#B177DE"/>
<path d="M827.0 1191.0L846.0 1210.3L827.0 1229.5L808.0 1210.3Z" fill="#B177DE"/>
<path d="M806.3 1190.3L825.3 1209.6L806.3 1228.8L787.3 1209.6Z" fill="#B177DE"/>
<path d="M745.9 1192.0L764.9 1211.2L745.9 1230.5L726.9 1211.2Z" fill="#B177DE"/>
<path d="M691.3 1194.0L710.3 1213.3L691.3 1232.5L672.3 1213.3Z" fill="#B177DE"/>
<path d="M640.7 1196.0L659.7 1215.3L640.7 1234.5L621.7 1215.3Z" fill="#B177DE"/>
<path d="M588.1 1198.8L607.1 1218.1L588.1 1237.3L569.1 1218.1Z" fill="#B177DE"/>
<path d="M540.7 1201.8L559.7 1221.0L540.7 1240.2L521.7 1221.0Z" fill="#B177DE"/>
<path d="M532.5 1203.0L551.5 1222.3L532.5 1241.5L513.5 1222.3Z" fill="#B177DE"/>
<path d="M483.3 1205.5L502.3 1224.8L483.3 1244.0L464.3 1224.8Z" fill="#B177DE"/>
<path d="M454.7 1204.5L473.7 1223.7L454.7 1243.0L435.7 1223.7Z" fill="#B177DE"/>
<path d="M410.6 1205.6L429.6 1224.9L410.6 1244.1L391.6 1224.9Z" fill="#B177DE"/>
<path d="M363.8 1205.5L382.8 1224.8L363.8 1244.0L344.8 1224.8Z" fill="#B177DE"/>
<path d="M312.0 1209.2L331.0 1228.4L312.0 1247.7L293.0 1228.4Z" fill="#B177DE"/>
</g>
<g>
<polyline points="301.6,1210.5 359.9,1206.4 424.1,1202.3 484.3,1199.5 544.2,1195.2 606.6,1192.3 666.9,1188.3 726.7,1184.2 789.7,1180.5 849.5,1177.4 912.3,1173.2 972.1,1169.4 1032.0,1165.2 1097.2,1159.9 1157.1,1156.9 1216.9,1151.9 1278.0,1145.9 1339.9,1140.9 1400.3,1135.4 1462.5,1127.6 1522.6,1119.0 1582.3,1108.5 1644.3,1092.0 1704.5,1071.7 1764.8,1037.3 1818.9,976.6 1884.8,783.2 1939.9,64.0" stroke="#CC9900" stroke-width="5.6"/>
<polyline points="1939.9,64.0 1904.2,437.1 1836.0,808.9 1767.8,941.0 1704.5,996.4 1634.6,1035.0 1590.7,1051.4 1524.4,1071.1 1462.5,1086.8 1402.6,1097.8 1339.9,1105.9 1278.0,1114.9 1216.9,1122.3 1157.1,1126.5 1097.2,1134.5 1045.3,1161.8 1034.2,1164.6 974.3,1168.8 914.5,1172.6 884.0,1174.0 851.7,1176.8 791.9,1179.9 728.9,1183.6 669.1,1187.7 608.8,1191.7 546.4,1194.6 486.5,1198.9 426.3,1201.7 362.1,1205.8 303.8,1209.9 314.6,1209.5" stroke="#CC9900" stroke-width="5.6"/>
<path d="M280.3 1210.5L312.3 1192.0L312.3 1229.0Z" fill="#CC9900"/>
<path d="M338.6 1206.4L370.6 1187.9L370.6 1224.9Z" fill="#CC9900"/>
<path d="M402.8 1202.3L434.8 1183.8L434.8 1220.8Z" fill="#CC9900"/>
<path d="M463.0 1199.5L495.0 1181.0L495.0 1218.0Z" fill="#CC9900"/>
<path d="M522.9 1195.2L554.9 1176.7L554.9 1213.7Z" fill="#CC9900"/>
<path d="M585.3 1192.3L617.3 1173.8L617.3 1210.8Z" fill="#CC9900"/>
<path d="M645.6 1188.3L677.6 1169.8L677.6 1206.8Z" fill="#CC9900"/>
<path d="M705.4 1184.2L737.4 1165.7L737.4 1202.7Z" fill="#CC9900"/>
<path d="M768.4 1180.5L800.4 1162.0L800.4 1199.0Z" fill="#CC9900"/>
<path d="M828.2 1177.4L860.2 1158.9L860.2 1195.9Z" fill="#CC9900"/>
<path d="M891.0 1173.2L923.0 1154.7L923.0 1191.7Z" fill="#CC9900"/>
<path d="M950.8 1169.4L982.8 1150.9L982.8 1187.9Z" fill="#CC9900"/>
<path d="M1010.7 1165.2L1042.7 1146.7L1042.7 1183.7Z" fill="#CC9900"/>
<path d="M1075.9 1159.9L1107.9 1141.4L1107.9 1178.4Z" fill="#CC9900"/>
<path d="M1135.8 1156.9L1167.8 1138.4L1167.8 1175.4Z" fill="#CC9900"/>
<path d="M1195.6 1151.9L1227.6 1133.4L1227.6 1170.4Z" fill="#CC9900"/>
<path d="M1256.7 1145.9L1288.7 1127.4L1288.7 1164.4Z" fill="#CC9900"/>
<path d="M1318.6 1140.9L1350.6 1122.4L1350.6 1159.4Z" fill="#CC9900"/>
<path d="M1379.0 1135.4L1411.0 1116.9L1411.0 1153.9Z" fill="#CC9900"/>
<path d="M1441.2 1127.6L1473.2 1109.1L1473.2 1146.1Z" fill="#CC9900"/>
<path d="M1501.3 1119.0L1533.3 1100.5L1533.3 1137.5Z" fill="#CC9900"/>
<path d="M1561.0 1108.5L1593.0 1090.0L1593.0 1127.0Z" fill="#CC9900"/>
<path d="M1623.0 1092.0L1655.0 1073.5L1655.0 1110.5Z" fill="#CC9900"/>
<path d="M1683.2 1071.7L1715.2 1053.2L1715.2 1090.2Z" fill="#CC9900"/>
<path d="M1743.5 1037.3L1775.5 1018.8L1775.5 1055.8Z" fill="#CC9900"/>
<path d="M1797.6 976.6L1829.6 958.1L1829.6 995.1Z" fill="#CC9900"/>
<path d="M1863.5 783.2L1895.5 764.7L1895.5 801.7Z" fill="#CC9900"/>
<path d="M1918.6 64.0L1950.6 45.5L1950.6 82.5Z" fill="#CC9900"/>
<path d="M1918.6 64.0L1950.6 45.5L1950.6 82.5Z" fill="#CC9900"/>
<path d="M1882.9 437.1L1914.9 418.6L1914.9 455.6Z" fill="#CC9900"/>
<path d="M1814.7 808.9L1846.7 790.4L1846.7 827.4Z" fill="#CC9900"/>
<path d="M1746.5 941.0L1778.5 922.5L1778.5 959.5Z" fill="#CC9900"/>
<path d="M1683.2 996.4L1715.2 977.9L1715.2 1014.9Z" fill="#CC9900"/>
<path d="M1613.3 1035.0L1645.3 1016.5L1645.3 1053.5Z" fill="#CC9900"/>
<path d="M1569.4 1051.4L1601.4 1032.9L1601.4 1069.9Z" fill="#CC9900"/>
<path d="M1503.1 1071.1L1535.1 1052.6L1535.1 1089.6Z" fill="#CC9900"/>
<path d="M1441.2 1086.8L1473.2 1068.3L1473.2 1105.3Z" fill="#CC9900"/>
<path d="M1381.3 1097.8L1413.3 1079.3L1413.3 1116.3Z" fill="#CC9900"/>
<path d="M1318.6 1105.9L1350.6 1087.4L1350.6 1124.4Z" fill="#CC9900"/>
<path d="M1256.7 1114.9L1288.7 1096.4L1288.7 1133.4Z" fill="#CC9900"/>
<path d="M1195.6 1122.3L1227.6 1103.8L1227.6 1140.8Z" fill="#CC9900"/>
<path d="M1135.8 1126.5L1167.8 1108.0L1167.8 1145.0Z" fill="#CC9900"/>
<path d="M1075.9 1134.5L1107.9 1116.0L1107.9 1153.0Z" fill="#CC9900"/>
<path d="M1024.0 1161.8L1056.0 1143.3L1056.0 1180.3Z" fill="#CC9900"/>
<path d="M1012.9 1164.6L1044.9 1146.1L1044.9 1183.1Z" fill="#CC9900"/>
<path d="M953.0 1168.8L985.0 1150.3L985.0 1187.3Z" fill="#CC9900"/>
<path d="M893.2 1172.6L925.2 1154.1L925.2 1191.1Z" fill="#CC9900"/>
<path d="M862.7 1174.0L894.7 1155.5L894.7 1192.5Z" fill="#CC9900"/>
<path d="M830.4 1176.8L862.4 1158.3L862.4 1195.3Z" fill="#CC9900"/>
<path d="M770.6 1179.9L802.6 1161.4L802.6 1198.4Z" fill="#CC9900"/>
<path d="M707.6 1183.6L739.6 1165.1L739.6 1202.1Z" fill="#CC9900"/>
<path d="M647.8 1187.7L679.8 1169.2L679.8 1206.2Z" fill="#CC9900"/>
<path d="M587.5 1191.7L619.5 1173.2L619.5 1210.2Z" fill="#CC9900"/>
<path d="M525.1 1194.6L557.1 1176.1L557.1 1213.1Z" fill="#CC9900"/>
<path d="M465.2 1198.9L497.2 1180.4L497.2 1217.4Z" fill="#CC9900"/>
<path d="M405.0 1201.7L437.0 1183.2L437.0 1220.2Z" fill="#CC9900"/>
<path d="M340.8 1205.8L372.8 1187.3L372.8 1224.3Z" fill="#CC9900"/>
<path d="M282.5 1209.9L314.5 1191.4L314.5 1228.4Z" fill="#CC9900"/>
<path d="M293.3 1209.5L325.3 1191.0L325.3 1228.0Z" fill="#CC9900"/>
</g>
</g>
<rect x="213.9" y="20" width="1747.1" height="3.2" fill="#bdbdb5"/>
<path d="M213.9 23H1961V1314.5H213.9ZM219.2 28.3V1309.1H1953.4V28.3Z" fill="#000" fill-rule="evenodd"/>
<path d="M390.2 1311.7v-13M564.3 1311.7v-24M738.5 1311.7v-13M912.6 1311.7v-24M1086.7 1311.7v-13M1260.8 1311.7v-24M1434.9 1311.7v-13M1609.1 1311.7v-24M1783.2 1311.7v-13" stroke="#000" stroke-width="7.4" fill="none"/>
<path d="M217 1270.0h24M217 1186.5h10.6M217 1104.0h24M217 1020.4h10.6M217 937.9h24M217 854.4h10.6M217 771.9h24M217 688.4h10.6M217 605.8h24M217 522.3h10.6M217 439.8h24M217 356.3h10.6M217 273.8h24M217 190.2h10.6M217 107.7h24" stroke="#000" stroke-width="6.2" fill="none"/>
<text class="tk" x="189.5" y="1287.7" text-anchor="end">0</text>
<text class="tk" x="189.5" y="1123.6" text-anchor="end">20</text>
<text class="tk" x="189.5" y="957.4" text-anchor="end">40</text>
<text class="tk" x="189.5" y="790.7" text-anchor="end">60</text>
<text class="tk" x="189.5" y="624.4" text-anchor="end">80</text>
<text class="tk" x="189.5" y="459.0" text-anchor="end">100</text>
<text class="tk" x="189.5" y="294.1" text-anchor="end">120</text>
<text class="tk" x="189.5" y="127.1" text-anchor="end">140</text>
<text class="tk" x="215.8" y="1385.2" text-anchor="middle">0.0</text>
<text class="tk" x="564.0" y="1385.2" text-anchor="middle">0.2</text>
<text class="tk" x="912.3" y="1385.2" text-anchor="middle">0.4</text>
<text class="tk" x="1260.5" y="1385.2" text-anchor="middle">0.6</text>
<text class="tk" x="1608.8" y="1385.2" text-anchor="middle">0.8</text>
<text class="tk" x="1957.0" y="1385.2" text-anchor="middle">1.0</text>
<text class="ti" transform="translate(1087.5 1461.8) scale(1 1.045)" x="0" y="0" text-anchor="middle">Relative pressure (P/P<tspan font-size="44" dy="18.5">0</tspan><tspan dy="-18.5">)</tspan></text>
<text class="ti" transform="translate(66 0) rotate(-90)"><tspan x="-1000.0" y="0" letter-spacing="1.9">Volume</tspan><tspan x="-759.2" y="0">@</tspan><tspan x="-683.2" y="0" letter-spacing="1.0">STP</tspan><tspan x="-543.3" y="0" letter-spacing="0.3">(cm</tspan><tspan x="-436.4" y="-27" font-size="43">3</tspan><tspan x="-410.9" y="0">/g)</tspan></text>
<path d="M609.3 170.6H764.5" stroke="#515151" stroke-width="5.5" fill="none"/>
<g fill="#515151"><rect x="672" y="157.2" width="27.2" height="27"/></g>
<path d="M609.3 255.4H764.5" stroke="#F14040" stroke-width="5.5" fill="none"/>
<g fill="#F14040"><circle cx="686.8" cy="254" r="15"/></g>
<path d="M609.3 337.2H764.5" stroke="#1A6FDF" stroke-width="5.8" fill="none"/>
<g fill="#1A6FDF"><path d="M685.5 317.5L704.7 348L666.3 348Z"/></g>
<path d="M609.3 420.5H764.5" stroke="#37AD6B" stroke-width="7.6" fill="none"/>
<g fill="#37AD6B"><path d="M668.7 411L704.7 411L686.7 441Z"/></g>
<path d="M609.3 503.7H764.5" stroke="#B177DE" stroke-width="5.5" fill="none"/>
<g fill="#B177DE"><path d="M685.5 485L702.4 504L685.5 523L668.6 504Z"/></g>
<path d="M609.3 587H764.5" stroke="#CC9900" stroke-width="7.6" fill="none"/>
<g fill="#CC9900"><path d="M665.8 587L696.6 569L696.6 605Z"/></g>
<text class="lg" transform="translate(775.5 193.6) scale(1 1.035)" x="0" y="0">CN-450</text>
<text class="lg" transform="translate(775.5 277.5) scale(1 1.035)" x="0" y="0">CN-500</text>
<text class="lg" transform="translate(775.5 360.5) scale(1 1.035)" x="0" y="0">CN-550</text>
<text class="lg" transform="translate(775.5 444.0) scale(1 1.035)" x="0" y="0">CN-600</text>
<text class="lg" transform="translate(775.5 527.0) scale(1 1.035)" x="0" y="0">CN-650</text>
<text class="lg" transform="translate(775.5 610.0) scale(1 1.035)" x="0" y="0">CN-700</text>
</svg></body></html>
